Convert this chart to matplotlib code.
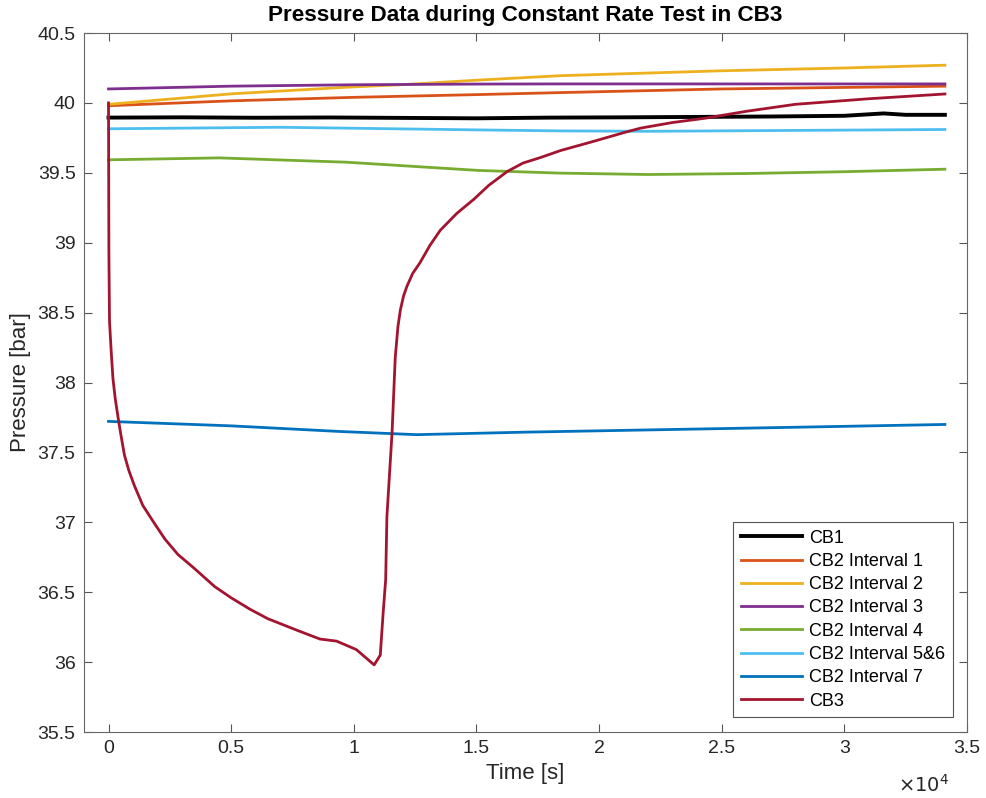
import matplotlib
matplotlib.use("Agg")
import matplotlib.pyplot as plt
from matplotlib.ticker import FuncFormatter

plt.rcParams['font.family'] = ['Liberation Sans', 'DejaVu Sans']

# values (time in s, pressure in bar)
t_cb1 = [0, 3000, 6000, 9000, 12000, 15000, 18000, 21000, 24000, 27000, 30000, 31600, 32500, 34100]
p_cb1 = [39.895, 39.897, 39.894, 39.896, 39.893, 39.890, 39.895, 39.897, 39.900, 39.903, 39.908, 39.925, 39.915, 39.915]

t_int1 = [0, 5000, 10000, 15140, 18440, 25000, 34100]
p_int1 = [39.98, 40.015, 40.04, 40.06, 40.074, 40.10, 40.12]

t_int2 = [0, 5000, 10000, 11900, 15140, 18440, 25000, 30000, 34100]
p_int2 = [39.99, 40.065, 40.115, 40.13, 40.164, 40.195, 40.23, 40.25, 40.27]

t_int3 = [0, 5000, 10000, 15140, 18440, 34100]
p_int3 = [40.10, 40.12, 40.13, 40.135, 40.136, 40.136]

t_int4 = [0, 4500, 9700, 15100, 18400, 22000, 26000, 30000, 34100]
p_int4 = [39.593, 39.607, 39.576, 39.517, 39.498, 39.488, 39.495, 39.508, 39.526]

t_int56 = [0, 7000, 15100, 18400, 22000, 34100]
p_int56 = [39.815, 39.826, 39.807, 39.800, 39.797, 39.810]

t_int7 = [0, 5000, 9400, 12560, 17000, 21700, 28000, 34100]
p_int7 = [37.722, 37.69, 37.65, 37.627, 37.645, 37.66, 37.68, 37.70]

t_cb3 = [0, 15, 40, 110, 180, 270, 380, 500, 650, 830, 1060, 1400, 1880, 2300, 2830, 3500,
         4330, 5000, 5750, 6500, 7800, 8620, 9300, 10100, 10500, 10830, 11080, 11200,
         11300, 11350, 11560, 11690, 11800, 11900, 12030, 12170, 12400, 12710, 13100,
         13530, 14200, 14890, 15500, 16260, 16900, 17620, 18440, 19670, 21160, 21700,
         23000, 24300, 26000, 28000, 31000, 34100]
p_cb3 = [40.0, 38.94, 38.44, 38.22, 38.03, 37.89, 37.76, 37.63, 37.48, 37.37, 37.26, 37.12,
         36.99, 36.88, 36.77, 36.67, 36.54, 36.46, 36.38, 36.31, 36.22, 36.165, 36.15,
         36.09, 36.03, 35.98, 36.05, 36.36, 36.59, 37.04, 37.64, 38.18, 38.40, 38.52,
         38.62, 38.69, 38.78, 38.86, 38.98, 39.09, 39.21, 39.31, 39.41, 39.51, 39.57,
         39.61, 39.66, 39.72, 39.795, 39.82, 39.86, 39.89, 39.94, 39.99, 40.03, 40.064]

labels = ['CB1', 'CB2 Interval 1', 'CB2 Interval 2', 'CB2 Interval 3',
          'CB2 Interval 4', 'CB2 Interval 5&6', 'CB2 Interval 7', 'CB3']
colors = ['#000000', '#D95319', '#EDB120', '#7E2F8E', '#77AC30', '#4DBEEE', '#0072BD', '#A2142F']
series = [(t_cb1, p_cb1), (t_int1, p_int1), (t_int2, p_int2), (t_int3, p_int3),
          (t_int4, p_int4), (t_int56, p_int56), (t_int7, p_int7), (t_cb3, p_cb3)]

fig = plt.figure(figsize=(9.87, 7.98), dpi=100)
ax = fig.add_axes([0.0851, 0.0827, 0.8946, 0.8759])

for (t, p), lab, c in zip(series, labels, colors):
    lw = 2.8 if lab == 'CB1' else 2.0
    ax.plot(t, p, color=c, lw=lw, label=lab, solid_joinstyle='round')

ax.set_xlim(-1000, 35000)
ax.set_ylim(35.5, 40.5)
ax.set_xticks([0, 5000, 10000, 15000, 20000, 25000, 30000, 35000])
ax.set_yticks([35.5, 36, 36.5, 37, 37.5, 38, 38.5, 39, 39.5, 40, 40.5])
ax.xaxis.set_major_formatter(FuncFormatter(lambda v, pos: f"{v/1e4:g}"))
ax.yaxis.set_major_formatter(FuncFormatter(lambda v, pos: f"{v:g}"))

ax.tick_params(direction='in', top=True, right=True, length=6, width=0.8,
               color='#555555', labelcolor='#262626', labelsize=14, pad=6)
for s in ax.spines.values():
    s.set_color('#666666')
    s.set_linewidth(0.8)

ax.set_xlabel('Time [s]', fontsize=16, color='#262626', labelpad=4)
ax.set_ylabel('Pressure [bar]', fontsize=16, color='#262626', labelpad=5)
ax.set_title('Pressure Data during Constant Rate Test in CB3', fontsize=16.2,
             fontweight='bold', pad=9)
fig.text(0.962, 0.003, r'$\times10^4$', fontsize=14, color='#262626', ha='right', va='bottom')

leg = ax.legend(loc='lower right', bbox_to_anchor=(0.984, 0.021), borderaxespad=0,
                fontsize=13, handlelength=3.4, handletextpad=0.4, labelspacing=0.35,
                fancybox=False, framealpha=1, borderpad=0.42)
leg.get_frame().set_edgecolor('#555555')
leg.get_frame().set_linewidth(0.8)

fig.savefig('out.png', dpi=100)
